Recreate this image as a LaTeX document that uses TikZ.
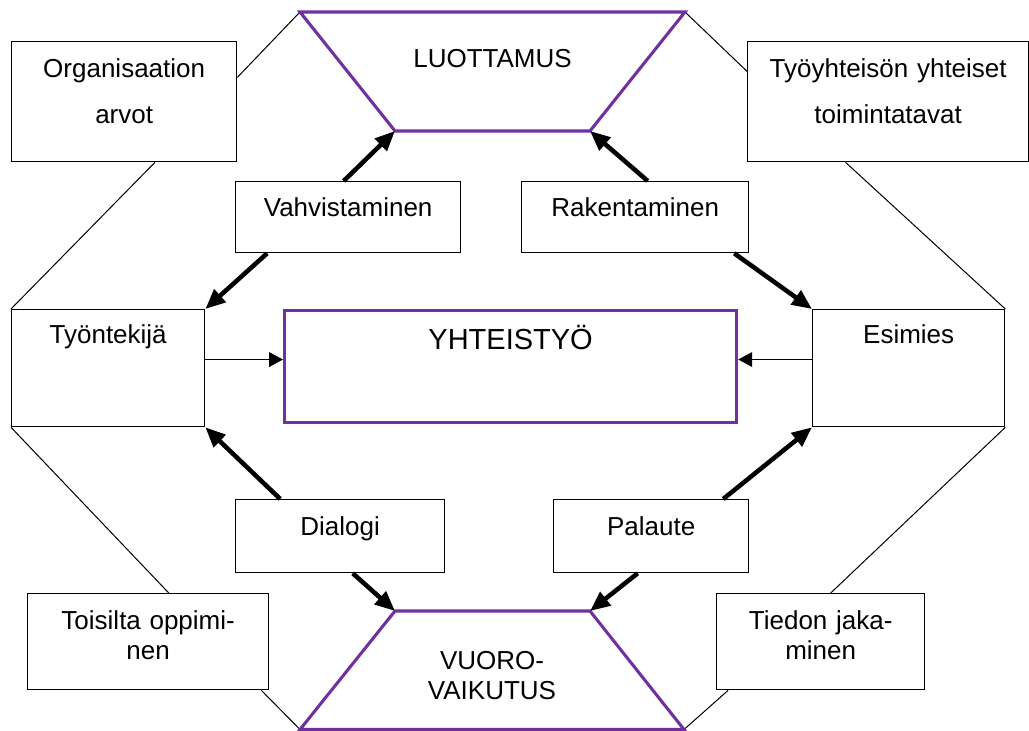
\documentclass[tikz,border=0pt]{standalone}
\usepackage{fontspec}
\setmainfont{Liberation Sans}
\usetikzlibrary{arrows.meta,calc}
\definecolor{purp}{HTML}{7030A0}
\newdimen\pxu \pxu=0.75pt
\newcommand{\mainfs}{\fontsize{19.5}{22.5}\selectfont}
\newcommand{\bigfs}{\fontsize{21.75}{25}\selectfont}
\tikzset{
  box/.style={draw, line width=1pt, rectangle, inner sep=0pt, align=center, font=\mainfs, anchor=north west},
  lbl/.style={inner sep=0pt, font=\mainfs, anchor=base},
  thinline/.style={line width=0.75pt},
  trap/.style={draw=purp, line width=2.3pt, line join=miter},
  thickarrow/.style={line width=3.4pt, -{Triangle[length=15pt,width=12.5pt]}},
  thinarrow/.style={line width=1.2pt, -{Triangle[length=10.5pt,width=11pt]}},
}
\begin{document}
\begin{tikzpicture}[x=0.75pt,y=-0.75pt]
\useasboundingbox (0,0) rectangle (1029,731);

% trapezoid corners
\coordinate (luTL) at (300,12);
\coordinate (luTR) at (685,12);
\coordinate (luBR) at (590,131);
\coordinate (luBL) at (395,131);
\coordinate (vuTL) at (395,611);
\coordinate (vuTR) at (590,611);
\coordinate (vuBR) at (684,729.5);
\coordinate (vuBL) at (300,729.5);

% boxes
\node[box, text width=225\pxu, text height=36\pxu, text depth=84\pxu] (org) at (11,41) {Organisaation\\[12pt]arvot};
\node[box, text width=281\pxu, text height=36\pxu, text depth=84\pxu] (tyy) at (747,41) {Työyhteisön yhteiset\\[12pt]toimintatavat};
\node[box, text width=193\pxu, text height=34\pxu, text depth=83\pxu] (ten) at (11,309) {Työntekijä};
\node[box, text width=192\pxu, text height=34\pxu, text depth=83\pxu] (esi) at (812,309) {Esimies};
\node[box, draw=purp, line width=2.4pt, font=\bigfs, text width=452\pxu, text height=39\pxu, text depth=73\pxu] (yht) at (283,309) {YHTEISTYÖ};
\node[box, text width=225\pxu, text height=35\pxu, text depth=36\pxu] (vah) at (235,181) {Vahvistaminen};
\node[box, text width=227\pxu, text height=35\pxu, text depth=36\pxu] (rak) at (521,181) {Rakentaminen};
\node[box, text width=209\pxu, text height=36\pxu, text depth=37\pxu] (dia) at (235,499) {Dialogi};
\node[box, text width=195\pxu, text height=36\pxu, text depth=37\pxu] (pal) at (553,499) {Palaute};
\node[box, text width=241\pxu, text height=36\pxu, text depth=60\pxu] (toi) at (27,593) {Toisilta oppimi-\\nen};
\node[box, text width=208\pxu, text height=36\pxu, text depth=60\pxu] (tie) at (716,593) {Tiedon jaka-\\minen};

% octagon thin lines
\draw[thinline] (luTL) -- ($(org.north east)!0.3!(org.south east)$);
\draw[thinline] ($(org.south west)!0.636!(org.south east)$) -- (ten.north west);
\draw[thinline] (ten.south west) -- ($(toi.north west)!0.585!(toi.north east)$);
\draw[thinline] ($(toi.south west)!0.967!(toi.south east)$) -- (vuBL);
\draw[thinline] (luTR) -- ($(tyy.north west)!0.25!(tyy.south west)$);
\draw[thinline] ($(tyy.south west)!0.349!(tyy.south east)$) -- (esi.north east);
\draw[thinline] (esi.south east) -- ($(tie.north west)!0.548!(tie.north east)$);
\draw[thinline] ($(tie.south west)!0.058!(tie.south east)$) -- (vuBR);

% trapezoids
\draw[trap] (luTL) -- (luTR) -- (luBR) -- (luBL) -- cycle;
\draw[trap] (vuTL) -- (vuTR) -- (vuBR) -- (vuBL) -- cycle;
\node[lbl] (lut) at (492.5,68) {LUOTTAMUS};
\node[lbl, text width=200\pxu, align=center] (vuo) at (492,669) {VUORO-\\VAIKUTUS};

% thick arrows
\draw[thickarrow] ($(vah.north west)!0.48!(vah.north east)$) -- (luBL);
\draw[thickarrow] ($(vah.south west)!0.142!(vah.south east)$) -- (ten.north east);
\draw[thickarrow] ($(rak.north west)!0.555!(rak.north east)$) -- (luBR);
\draw[thickarrow] ($(rak.south west)!0.934!(rak.south east)$) -- (esi.north west);
\draw[thickarrow] ($(dia.north west)!0.215!(dia.north east)$) -- (ten.south east);
\draw[thickarrow] ($(dia.south west)!0.56!(dia.south east)$) -- (vuTL);
\draw[thickarrow] ($(pal.north west)!0.867!(pal.north east)$) -- (esi.south west);
\draw[thickarrow] ($(pal.south west)!0.431!(pal.south east)$) -- (vuTR);

% thin arrows into YHTEISTYÖ
\coordinate (tenout) at ($(ten.north east)!0.427!(ten.south east)$);
\coordinate (esiout) at ($(esi.north west)!0.427!(esi.south west)$);
\draw[thinarrow] (tenout) -- (tenout -| yht.west);
\draw[thinarrow] (esiout) -- (esiout -| yht.east);
\end{tikzpicture}
\end{document}
